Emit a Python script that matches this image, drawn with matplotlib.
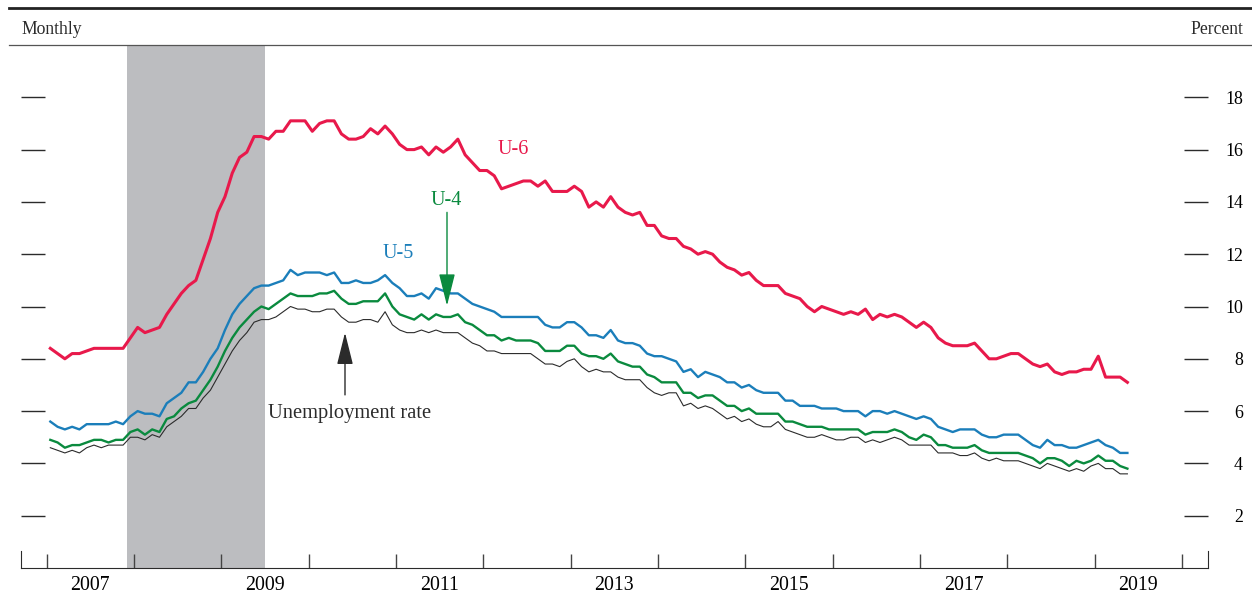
import numpy as np
import matplotlib
matplotlib.use('Agg')
import matplotlib.pyplot as plt
from matplotlib.lines import Line2D

plt.rcParams.update({'font.family': 'serif'})
plt.rcParams.update({'font.serif': ['Liberation Serif', 'DejaVu Serif']})

# monthly rates, Jan 2007 - May 2019 (percent)
u3 = [4.6, 4.5, 4.4, 4.5, 4.4, 4.6, 4.7, 4.6, 4.7, 4.7, 4.7, 5.0,
      5.0, 4.9, 5.1, 5.0, 5.4, 5.6, 5.8, 6.1, 6.1, 6.5, 6.8, 7.3,
      7.8, 8.3, 8.7, 9.0, 9.4, 9.5, 9.5, 9.6, 9.8, 10.0, 9.9, 9.9,
      9.8, 9.8, 9.9, 9.9, 9.6, 9.4, 9.4, 9.5, 9.5, 9.4, 9.8, 9.3,
      9.1, 9.0, 9.0, 9.1, 9.0, 9.1, 9.0, 9.0, 9.0, 8.8, 8.6, 8.5,
      8.3, 8.3, 8.2, 8.2, 8.2, 8.2, 8.2, 8.0, 7.8, 7.8, 7.7, 7.9,
      8.0, 7.7, 7.5, 7.6, 7.5, 7.5, 7.3, 7.2, 7.2, 7.2, 6.9, 6.7,
      6.6, 6.7, 6.7, 6.2, 6.3, 6.1, 6.2, 6.1, 5.9, 5.7, 5.8, 5.6,
      5.7, 5.5, 5.4, 5.4, 5.6, 5.3, 5.2, 5.1, 5.0, 5.0, 5.1, 5.0,
      4.9, 4.9, 5.0, 5.0, 4.8, 4.9, 4.8, 4.9, 5.0, 4.9, 4.7, 4.7,
      4.7, 4.7, 4.4, 4.4, 4.4, 4.3, 4.3, 4.4, 4.2, 4.1, 4.2, 4.1,
      4.1, 4.1, 4.0, 3.9, 3.8, 4.0, 3.9, 3.8, 3.7, 3.8, 3.7, 3.9,
      4.0, 3.8, 3.8, 3.6, 3.6]

u4 = [4.9, 4.8, 4.6, 4.7, 4.7, 4.8, 4.9, 4.9, 4.8, 4.9, 4.9, 5.2,
      5.3, 5.1, 5.3, 5.2, 5.7, 5.8, 6.1, 6.3, 6.4, 6.8, 7.2, 7.7,
      8.3, 8.8, 9.2, 9.5, 9.8, 10.0, 9.9, 10.1, 10.3, 10.5, 10.4, 10.4,
      10.4, 10.5, 10.5, 10.6, 10.3, 10.1, 10.1, 10.2, 10.2, 10.2, 10.5, 10.0,
      9.7, 9.6, 9.5, 9.7, 9.5, 9.7, 9.6, 9.6, 9.7, 9.4, 9.3, 9.1,
      8.9, 8.9, 8.7, 8.8, 8.7, 8.7, 8.7, 8.6, 8.3, 8.3, 8.3, 8.5,
      8.5, 8.2, 8.1, 8.1, 8.0, 8.2, 7.9, 7.8, 7.7, 7.7, 7.4, 7.3,
      7.1, 7.1, 7.1, 6.7, 6.7, 6.5, 6.6, 6.6, 6.4, 6.2, 6.2, 6.0,
      6.1, 5.9, 5.9, 5.9, 5.9, 5.6, 5.6, 5.5, 5.4, 5.4, 5.4, 5.3,
      5.3, 5.3, 5.3, 5.3, 5.1, 5.2, 5.2, 5.2, 5.3, 5.2, 5.0, 4.9,
      5.1, 5.0, 4.7, 4.7, 4.6, 4.6, 4.6, 4.7, 4.5, 4.4, 4.4, 4.4,
      4.4, 4.4, 4.3, 4.2, 4.0, 4.2, 4.2, 4.1, 3.9, 4.1, 4.0, 4.1,
      4.3, 4.1, 4.1, 3.9, 3.8]

u5 = [5.6, 5.4, 5.3, 5.4, 5.3, 5.5, 5.5, 5.5, 5.5, 5.6, 5.5, 5.8,
      6.0, 5.9, 5.9, 5.8, 6.3, 6.5, 6.7, 7.1, 7.1, 7.5, 8.0, 8.4,
      9.1, 9.7, 10.1, 10.4, 10.7, 10.8, 10.8, 10.9, 11.0, 11.4, 11.2, 11.3,
      11.3, 11.3, 11.2, 11.3, 10.9, 10.9, 11.0, 10.9, 10.9, 11.0, 11.2, 10.9,
      10.7, 10.4, 10.4, 10.5, 10.3, 10.7, 10.6, 10.5, 10.5, 10.3, 10.1, 10.0,
      9.9, 9.8, 9.6, 9.6, 9.6, 9.6, 9.6, 9.6, 9.3, 9.2, 9.2, 9.4,
      9.4, 9.2, 8.9, 8.9, 8.8, 9.1, 8.7, 8.6, 8.6, 8.5, 8.2, 8.1,
      8.1, 8.0, 7.9, 7.5, 7.6, 7.3, 7.5, 7.4, 7.3, 7.1, 7.1, 6.9,
      7.0, 6.8, 6.7, 6.7, 6.7, 6.4, 6.4, 6.2, 6.2, 6.2, 6.1, 6.1,
      6.1, 6.0, 6.0, 6.0, 5.8, 6.0, 6.0, 5.9, 6.0, 5.9, 5.8, 5.7,
      5.8, 5.7, 5.4, 5.3, 5.2, 5.3, 5.3, 5.3, 5.1, 5.0, 5.0, 5.1,
      5.1, 5.1, 4.9, 4.7, 4.6, 4.9, 4.7, 4.7, 4.6, 4.6, 4.7, 4.8,
      4.9, 4.7, 4.6, 4.4, 4.4]

u6 = [8.4, 8.2, 8.0, 8.2, 8.2, 8.3, 8.4, 8.4, 8.4, 8.4, 8.4, 8.8,
      9.2, 9.0, 9.1, 9.2, 9.7, 10.1, 10.5, 10.8, 11.0, 11.8, 12.6, 13.6,
      14.2, 15.1, 15.7, 15.9, 16.5, 16.5, 16.4, 16.7, 16.7, 17.1, 17.1, 17.1,
      16.7, 17.0, 17.1, 17.1, 16.6, 16.4, 16.4, 16.5, 16.8, 16.6, 16.9, 16.6,
      16.2, 16.0, 16.0, 16.1, 15.8, 16.1, 15.9, 16.1, 16.4, 15.8, 15.5, 15.2,
      15.2, 15.0, 14.5, 14.6, 14.7, 14.8, 14.8, 14.6, 14.8, 14.4, 14.4, 14.4,
      14.6, 14.4, 13.8, 14.0, 13.8, 14.2, 13.8, 13.6, 13.5, 13.6, 13.1, 13.1,
      12.7, 12.6, 12.6, 12.3, 12.2, 12.0, 12.1, 12.0, 11.7, 11.5, 11.4, 11.2,
      11.3, 11.0, 10.8, 10.8, 10.8, 10.5, 10.4, 10.3, 10.0, 9.8, 10.0, 9.9,
      9.8, 9.7, 9.8, 9.7, 9.9, 9.5, 9.7, 9.6, 9.7, 9.6, 9.4, 9.2,
      9.4, 9.2, 8.8, 8.6, 8.5, 8.5, 8.5, 8.6, 8.3, 8.0, 8.0, 8.1,
      8.2, 8.2, 8.0, 7.8, 7.7, 7.8, 7.5, 7.4, 7.5, 7.5, 7.6, 7.6,
      8.1, 7.3, 7.3, 7.3, 7.1]

start_year = 2007
recession = (2007 + 11/12., 2009.5)   # Dec 2007 - Jun 2009
year_ticks = list(range(2007, 2021))
year_labels = list(range(2007, 2020, 2))
y_ticks = list(range(2, 20, 2))

red = '#e8194b'
blue = '#1b7eba'
green = '#0a8a3e'
ink = '#2b2b2b'

t = start_year + (np.arange(len(u3)) + 0.5) / 12.0

W, H = 1252, 597
fig = plt.figure(figsize=(W/100, H/100), dpi=100)
ax = fig.add_axes([21/W, 29/H, (1208-21)/W, (568-45)/H])

ax.axvspan(recession[0], recession[1], color='#bcbdc0', lw=0, zorder=0)

ax.plot(t, u6, color=red, lw=2.2, zorder=3)
ax.plot(t, u5, color=blue, lw=1.7, zorder=3)
ax.plot(t, u4, color=green, lw=1.7, zorder=3)
ax.plot(t, u3, color=ink, lw=0.8, zorder=3)

ax.set_xlim(2006.706, 2020.298)
ax.set_ylim(0, 20)

# spines: only bottom, with short end ticks
ax.spines['top'].set_visible(False)
for s in ['left', 'right']:
    ax.spines[s].set_bounds(0, 0.65)
    ax.spines[s].set_color(ink)
ax.spines['bottom'].set_color(ink)

ax.set_xticks(year_ticks)
ax.set_xticks([y + 0.5 for y in year_labels], minor=True)
ax.set_xticklabels([str(y) for y in year_labels], minor=True)
ax.tick_params(axis='x', which='major', direction='in', length=10,
               width=1, color='#444444', labelbottom=False)
ax.tick_params(axis='x', which='minor', length=0, pad=5.5, labelsize=14.3)

ax.set_yticks(y_ticks)
ax.tick_params(axis='y', direction='in', length=17.3, width=1, color=ink,
               left=True, right=True, labelleft=False, labelright=True,
               pad=25.2, labelsize=12.9)
plt.setp(ax.get_yticklabels(), ha='right')

# labels
ax.text(2012.34, 16.0, 'U-6', color=red, ha='center', va='center', fontsize=14.5)
ax.text(2011.58, 14.05, 'U-4', color=green, ha='center', va='center', fontsize=14.5)
ax.text(2011.02, 12.02, 'U-5', color=blue, ha='center', va='center', fontsize=14.5)
ax.text(2010.47, 5.9, 'Unemployment rate', color=ink, ha='center', va='center', fontsize=14.8)

ax.annotate('', xy=(2011.584, 10.03), xytext=(2011.584, 13.6),
            arrowprops=dict(arrowstyle='-|>,head_length=2.0,head_width=0.5',
                            color=green, lw=1, shrinkA=0, shrinkB=0,
                            mutation_scale=10))
ax.annotate('', xy=(2010.416, 9.0), xytext=(2010.416, 6.62),
            arrowprops=dict(arrowstyle='-|>,head_length=2.0,head_width=0.5',
                            color=ink, lw=1, shrinkA=0, shrinkB=0,
                            mutation_scale=10))

# header
fig.add_artist(Line2D([9/W, 1], [1 - 7.5/H] * 2, lw=2.0, color='#222222'))
fig.add_artist(Line2D([9/W, 1], [1 - 45/H] * 2, lw=0.9, color='#555555'))
fig.text(21/W, 1 - 30/H, 'Monthly', ha='left', va='center', fontsize=12.7, color=ink)
fig.text(1243/W, 1 - 30/H, 'Percent', ha='right', va='center', fontsize=12.7, color=ink)

fig.savefig('out.png', dpi=100)
